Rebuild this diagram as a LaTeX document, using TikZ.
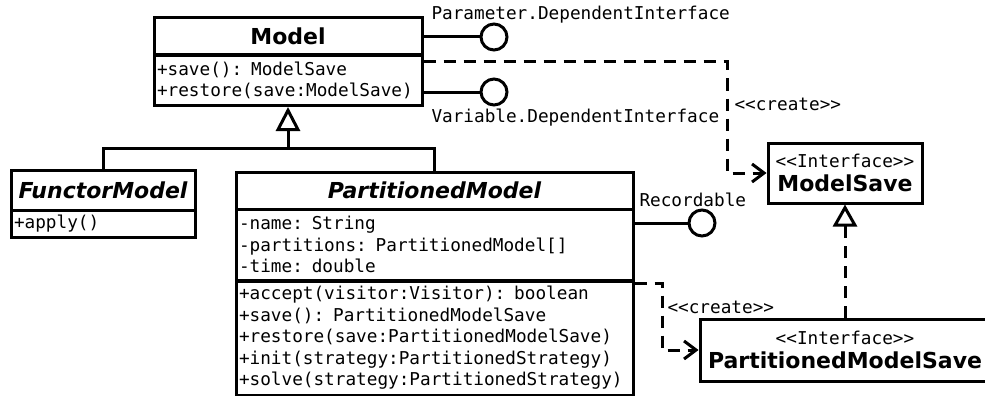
\documentclass[tikz,border=0pt]{standalone}
\usepackage{fontspec}
\setmainfont{DejaVu Sans}
\setsansfont{DejaVu Sans}
\setmonofont{DejaVu Sans Mono}
\usetikzlibrary{arrows.meta,calc}
\tikzset{
  titlebox/.style={draw, inner sep=0pt, font=\bfseries\fontsize{22}{24}\selectfont},
  membox/.style={draw, inner xsep=3pt, inner ysep=0pt, align=left, font=\ttfamily\fontsize{17.7}{21.5}\selectfont},
  ifacebox/.style={draw, inner sep=0pt, align=center, font=\fontsize{17.7}{24}\selectfont},
  lbl/.style={font=\ttfamily\fontsize{17.7}{21.5}\selectfont, inner sep=0pt},
  ball/.style={circle, draw, minimum size=26pt, inner sep=0pt},
  dashy/.style={dash pattern=on 12pt off 8pt},
  dep/.style={dashy, -{Straight Barb[length=12pt,width=18pt]}},
  gentip/.style={-{Triangle[open,length=24pt,width=24pt]}},
}
\begin{document}
\begin{tikzpicture}[x=1pt,y=-1pt,line width=3pt]
\useasboundingbox (0,0) rectangle (985,396);
\clip (0,0) rectangle (985,396);

% Model
\node[titlebox, minimum width=268pt, minimum height=37pt] (model-h) at (288,36.5) {Model};
\node[membox, text width=262pt, minimum height=50pt] (model-m) at (288,80.5) {+save(): ModelSave\\+restore(save:ModelSave)};

% FunctorModel
\node[titlebox, minimum width=184pt, minimum height=40pt, font=\bfseries\itshape\fontsize{22}{24}\selectfont] (fm-h) at (103,190) {FunctorModel};
\node[membox, text width=178pt, minimum height=27pt] (fm-m) at (103,223.5) {+apply()};

% PartitionedModel
\node[titlebox, minimum width=397pt, minimum height=37pt, font=\bfseries\itshape\fontsize{22}{24}\selectfont] (pm-h) at (434.5,190.5) {PartitionedModel};
\node[membox, text width=391pt, minimum height=71pt] (pm-a) at (434.5,244.5) {-name: String\\-partitions: PartitionedModel[]\\-time: double};
\node[membox, text width=391pt, minimum height=114pt] (pm-o) at (434.5,338) {+accept(visitor:Visitor): boolean\\+save(): PartitionedModelSave\\+restore(save:PartitionedModelSave)\\+init(strategy:PartitionedStrategy)\\+solve(strategy:PartitionedStrategy)};

% Interfaces
\node[ifacebox, minimum width=154pt, minimum height=60pt] (ms) at (845,173) {{\ttfamily <<Interface>>}\\{\bfseries\fontsize{22}{24}\selectfont ModelSave}};
\node[ifacebox, minimum width=290pt, minimum height=62pt] (pms) at (845,350) {{\ttfamily <<Interface>>}\\{\bfseries\fontsize{22}{24}\selectfont PartitionedModelSave}};

% Lollipops
\node[ball] (pdi) at (494,37) {};
\draw (pdi -| model-h.east) -- (pdi);
\node[lbl, anchor=west] (pdi-l) at (430,15) {Parameter.DependentInterface};
\node[ball] (vdi) at (494,92) {};
\draw (vdi -| model-m.east) -- (vdi);
\node[lbl, anchor=west] (vdi-l) at (430,118) {Variable.DependentInterface};
\node[ball] (rec) at (702,223) {};
\draw (rec -| pm-a.east) -- (rec);
\node[lbl, anchor=west] (rec-l) at (638,200) {Recordable};

% Dependencies
\coordinate (d1) at (727,62);
\draw[dep] (d1 -| model-m.east) -- (d1) |- (ms.west);
\node[lbl, anchor=west] (c1) at (733,104) {<<create>>};
\coordinate (d2) at (662,283);
\draw[dep] (d2 -| pm-o.east) -- (d2) |- (pms.west);
\node[lbl, anchor=west] (c2) at (666,307) {<<create>>};

% Realization
\draw[dashy, -{Triangle[open,length=22pt,width=24pt]}] (pms.north) -- (ms.south);

% Generalization
\coordinate (g) at (288,148);
\draw (fm-h.north) |- (g) -| (pm-h.north);
\draw[gentip] (g) -- (model-m.south);
\end{tikzpicture}
\end{document}
